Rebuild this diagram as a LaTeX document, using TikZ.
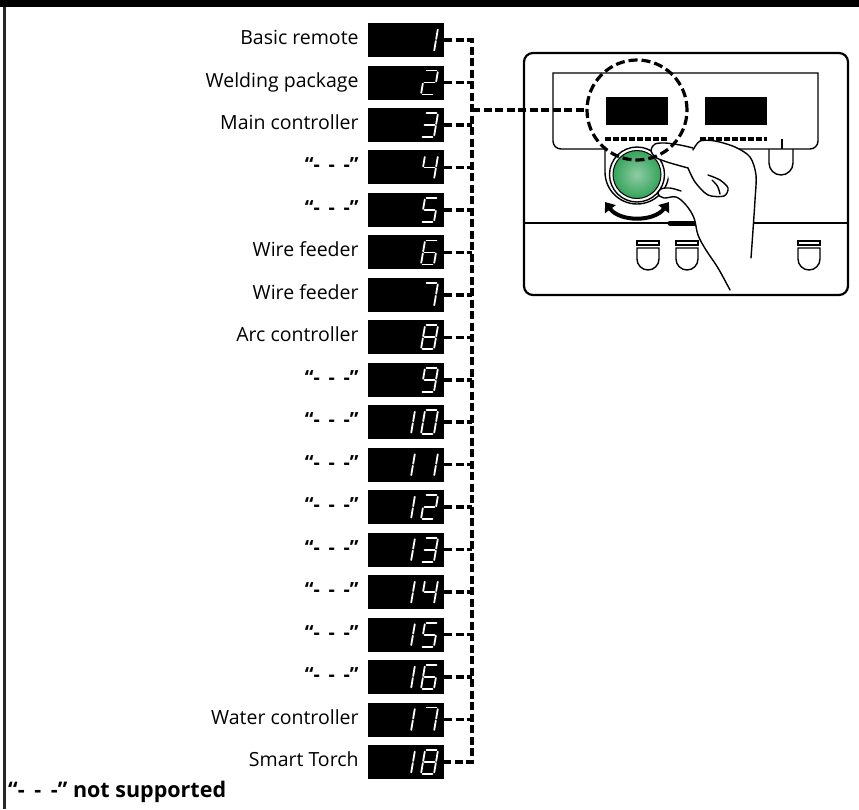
\documentclass[tikz,border=0pt]{standalone}
\usepackage{fontspec}
\setmainfont{Open Sans}
\usetikzlibrary{positioning,arrows.meta}

\definecolor{knobgreen}{HTML}{34A35A}

% the "not supported" mark
\newcommand{\nosup}{“-\hspace{0.45em}-\hspace{0.45em}-”}

% one seven-segment digit, #1 = centre left of the cell, #2 = lit segments
\newcommand{\showdigit}[2]{%
  \begin{scope}[shift={#1},xslant=0.17]
    \coordinate (a1) at (1.6,-12);  \coordinate (a2) at (11.4,-12);
    \coordinate (b1) at (13,-10.4); \coordinate (b2) at (13,-1);
    \coordinate (c1) at (13,1);     \coordinate (c2) at (13,10.4);
    \coordinate (d1) at (1.6,12);   \coordinate (d2) at (11.4,12);
    \coordinate (e1) at (0,10.4);   \coordinate (e2) at (0,1);
    \coordinate (f1) at (0,-1);     \coordinate (f2) at (0,-10.4);
    \coordinate (g1) at (1.6,0);    \coordinate (g2) at (11.4,0);
    \foreach \s in {#2} \draw[segment] (\s1) -- (\s2);
  \end{scope}}

\tikzset{
  btn/.pic={
    \draw[panel line] (-11,-7) rectangle (11,-3);
    \draw[panel line] (-11,0) -- (-11,11) arc[start angle=180,end angle=360,radius=11pt] -- (11,0) -- cycle;
  }
}

\begin{document}
\begin{tikzpicture}[x=1pt,y=-1pt,
  disp/.style={fill=black,minimum width=76pt,minimum height=34pt,inner sep=0pt},
  lab/.style={font=\fontsize{19.5}{22}\selectfont,inner sep=0pt,text height=14pt,text depth=5pt},
  segment/.style={white,line width=1.8pt,line cap=round},
  bus/.style={line width=3.5pt,dash pattern=on 8pt off 3.5pt},
  panel line/.style={line width=1.4pt},
  hand/.style={line width=1.4pt,line cap=round},
  zoom ring/.style={circle,draw,line width=3.2pt,dash pattern=on 9pt off 4pt,minimum size=100pt,inner sep=0pt}]

  \useasboundingbox (0,0) rectangle (859,809);
  \fill (0,0) rectangle (859,7);
  \draw[line width=3pt,black!85] (4,7) -- (4,809);

  \node[disp] (disp1) at (406,40) {};
  \node[disp] (disp2) at (406,82.5) {};
  \node[disp] (disp3) at (406,124.9) {};
  \node[disp] (disp4) at (406,167.4) {};
  \node[disp] (disp5) at (406,209.9) {};
  \node[disp] (disp6) at (406,252.4) {};
  \node[disp] (disp7) at (406,294.8) {};
  \node[disp] (disp8) at (406,337.3) {};
  \node[disp] (disp9) at (406,379.8) {};
  \node[disp] (disp10) at (406,422.2) {};
  \node[disp] (disp11) at (406,464.7) {};
  \node[disp] (disp12) at (406,507.2) {};
  \node[disp] (disp13) at (406,549.6) {};
  \node[disp] (disp14) at (406,592.1) {};
  \node[disp] (disp15) at (406,634.6) {};
  \node[disp] (disp16) at (406,677) {};
  \node[disp] (disp17) at (406,719.5) {};
  \node[disp] (disp18) at (406,762) {};

  \node[lab,left=9pt of disp1] (lab1) {Basic remote};
  \node[lab,left=9pt of disp2] (lab2) {Welding package};
  \node[lab,left=9pt of disp3] (lab3) {Main controller};
  \node[lab,left=9pt of disp4] (lab4) {\bfseries\nosup};
  \node[lab,left=9pt of disp5] (lab5) {\bfseries\nosup};
  \node[lab,left=9pt of disp6] (lab6) {Wire feeder};
  \node[lab,left=9pt of disp7] (lab7) {Wire feeder};
  \node[lab,left=9pt of disp8] (lab8) {Arc controller};
  \node[lab,left=9pt of disp9] (lab9) {\bfseries\nosup};
  \node[lab,left=9pt of disp10] (lab10) {\bfseries\nosup};
  \node[lab,left=9pt of disp11] (lab11) {\bfseries\nosup};
  \node[lab,left=9pt of disp12] (lab12) {\bfseries\nosup};
  \node[lab,left=9pt of disp13] (lab13) {\bfseries\nosup};
  \node[lab,left=9pt of disp14] (lab14) {\bfseries\nosup};
  \node[lab,left=9pt of disp15] (lab15) {\bfseries\nosup};
  \node[lab,left=9pt of disp16] (lab16) {\bfseries\nosup};
  \node[lab,left=9pt of disp17] (lab17) {Water controller};
  \node[lab,left=9pt of disp18] (lab18) {Smart Torch};

  \node[lab,font=\bfseries\fontsize{21.5}{24}\selectfont,anchor=west] (note) at (8,793) {\nosup{} not supported};

  % display numbers
  \showdigit{(423,40)}{b,c}
  \showdigit{(423,82.5)}{a,b,g,e,d}
  \showdigit{(423,124.9)}{a,b,g,c,d}
  \showdigit{(423,167.4)}{f,g,b,c}
  \showdigit{(423,209.9)}{a,f,g,c,d}
  \showdigit{(423,252.4)}{a,f,g,e,d,c}
  \showdigit{(423,294.8)}{a,b,c}
  \showdigit{(423,337.3)}{a,b,c,d,e,f,g}
  \showdigit{(423,379.8)}{a,b,c,d,f,g}
  \showdigit{(400,422.2)}{b,c} \showdigit{(423,422.2)}{a,b,c,d,e,f}
  \showdigit{(400,464.7)}{b,c} \showdigit{(423,464.7)}{b,c}
  \showdigit{(400,507.2)}{b,c} \showdigit{(423,507.2)}{a,b,g,e,d}
  \showdigit{(400,549.6)}{b,c} \showdigit{(423,549.6)}{a,b,g,c,d}
  \showdigit{(400,592.1)}{b,c} \showdigit{(423,592.1)}{f,g,b,c}
  \showdigit{(400,634.6)}{b,c} \showdigit{(423,634.6)}{a,f,g,c,d}
  \showdigit{(400,677)}{b,c} \showdigit{(423,677)}{a,f,g,e,d,c}
  \showdigit{(400,719.5)}{b,c} \showdigit{(423,719.5)}{a,b,c}
  \showdigit{(400,762)}{b,c} \showdigit{(423,762)}{a,b,c,d,e,f,g}

  % control panel
  \draw[line width=2.2pt,rounded corners=9pt] (524,53) rectangle (848,295);
  \draw[panel line] (669,149) -- (669,172) arc[start angle=0,end angle=-180,radius=32pt] -- (605,149)
    -- (561,149) arc[start angle=270,end angle=180,radius=8pt] -- (553,73) -- (818,73)
    -- (818,141) arc[start angle=0,end angle=-90,radius=8pt] -- cycle;
  \fill (606,97) rectangle (668,125);
  \fill (705,97) rectangle (767,125);
  \draw[line width=4.5pt,dash pattern=on 6pt off 2pt] (605,139) -- (667,139);
  \draw[line width=4.5pt,dash pattern=on 6pt off 2pt] (700,139) -- (767,139);
  \draw[line width=2pt] (782,139) -- (782,149);
  \draw[panel line] (769,149) -- (769,163) arc[start angle=180,end angle=360,radius=12pt] -- (793,149);
  \draw[panel line] (524,223) -- (848,223);
  \draw[line width=5pt,line cap=round] (670,223) -- (697,223);
  \pic at (648,248) {btn};
  \pic at (687,248) {btn};
  \pic at (809,248) {btn};

  \draw[panel line] (637,174.5) circle[radius=27.5pt];
  \shade[inner color=knobgreen!55!white,outer color=knobgreen] (637,174.5) circle[radius=24pt];
  \draw[line width=1pt] (637,174.5) circle[radius=24pt];
  \draw[line width=4pt,{Triangle[width=13pt,length=9pt]}-{Triangle[width=13pt,length=9pt]}]
    (605,202) .. controls (620,222) and (654,222) .. (669,202);

  % hand on the knob
  \fill[white] (730,290) -- (718,268) -- (706,250) -- (698,235) -- (694,218) -- (686,205) -- (676,197)
    -- (664,198) -- (658,194) -- (661,189) -- (670,188) -- (667,168) -- (667,162) -- (655,157)
    -- (651,150) -- (655,144) -- (665,143) -- (680,145) -- (693,146) -- (700,141) -- (715,141)
    -- (735,147) -- (750,157) -- (756,175) -- (755,200) -- (753,230) -- (751,258) -- cycle;
  \draw[hand] plot[smooth,tension=0.6] coordinates {(730,290) (718,268) (706,250) (698,235) (694,218)
    (686,205) (676,197) (664,198) (658,194) (661,189) (670,188) (681,191)};
  \draw[hand] plot[smooth] coordinates {(688,168) (667,162) (655,157) (651,150) (655,144) (665,143) (680,145) (693,148)};
  \draw[hand] plot[smooth] coordinates {(693,150) (700,141) (715,141) (735,147) (750,157) (756,175)
    (755,200) (753,230) (751,258)};
  \draw[hand] plot[smooth] coordinates {(688,168) (695,182) (708,195) (724,196) (728,188) (720,180) (708,175)};
  \draw[hand] (712,180) .. controls (718,186) .. (720,194);

  \node[zoom ring] (zoom) at (637,110) {};

  % bus between the displays and the panel
  \coordinate (bustop) at (472,40);
  \draw[bus] (disp1.east) -- (disp1.east -| bustop) -- (disp18.east -| bustop) -- (disp18.east);
  \path[bus]
   (disp2.east) edge (disp2.east -| bustop)
   (disp3.east) edge (disp3.east -| bustop)
   (disp4.east) edge (disp4.east -| bustop)
   (disp5.east) edge (disp5.east -| bustop)
   (disp6.east) edge (disp6.east -| bustop)
   (disp7.east) edge (disp7.east -| bustop)
   (disp8.east) edge (disp8.east -| bustop)
   (disp9.east) edge (disp9.east -| bustop)
   (disp10.east) edge (disp10.east -| bustop)
   (disp11.east) edge (disp11.east -| bustop)
   (disp12.east) edge (disp12.east -| bustop)
   (disp13.east) edge (disp13.east -| bustop)
   (disp14.east) edge (disp14.east -| bustop)
   (disp15.east) edge (disp15.east -| bustop)
   (disp16.east) edge (disp16.east -| bustop)
   (disp17.east) edge (disp17.east -| bustop);
  \draw[bus] (zoom.west -| bustop) -- (zoom.west);
\end{tikzpicture}
\end{document}
